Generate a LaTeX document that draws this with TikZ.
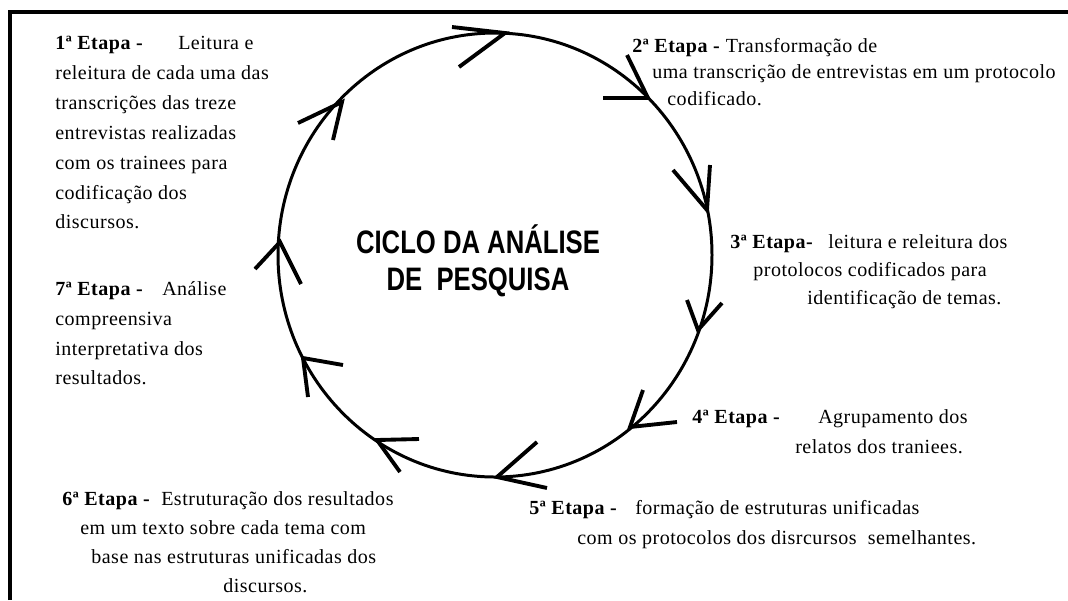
\documentclass[tikz,border=0pt]{standalone}
\usepackage{fontspec}
\setmainfont{Liberation Serif}[LetterSpace=2.5]
\newfontfamily\titlefont[FakeStretch=0.79]{Liberation Sans}
\begin{document}
\begin{tikzpicture}[x=0.02cm, y=-0.02cm,
    etapa/.style={anchor=north west, inner sep=0pt, align=left, font=\fontsize{11.4}{17}\selectfont},
    ponta/.style={line width=2.2pt, line join=miter}]

        \useasboundingbox (0,0) rectangle (1068,600);
        \draw [line width=2pt] (10,600) -- (10,12) -- (1068,12);

        % ciclo
        \coordinate (centro) at (495,255);
        \draw [line width=1.7pt] (centro) ellipse [x radius=217, y radius=222];
        \draw [ponta] (452,27) -- (505,33) -- (459,67);
        \draw [ponta] (627,55) -- (648,98) -- (603,98);
        \draw [ponta] (710,165) -- (707,210) -- (673,170);
        \draw [ponta] (687,300) -- (698,330) -- (722,303);
        \draw [ponta] (643,390) -- (630,427) -- (677,422);
        \draw [ponta] (537,442) -- (497,477) -- (547,488);
        \draw [ponta] (419,439) -- (377,440) -- (400,472);
        \draw [ponta] (343,365) -- (303,358) -- (308,397);
        \draw [ponta] (255,269) -- (280,242) -- (301,284);
        \draw [ponta] (298,123) -- (342,102) -- (333,140);

        \node [align=center, inner sep=0pt, font=\titlefont\bfseries\fontsize{18.5}{21}\selectfont] (titulo) at (478,261) {CICLO DA ANÁLISE\\DE~~PESQUISA};

        % etapas
        \node [etapa] (e1) at (55,36) {\textbf{1ª Etapa -}\hspace{0.7cm}Leitura e\\releitura de cada uma das\\transcrições das treze\\entrevistas realizadas\\com os trainees para\\codificação dos\\discursos.};
        \node [etapa, font=\fontsize{11.4}{15}\selectfont] (e2) at (632,38) {\textbf{2ª Etapa -} Transformação de\\\hspace*{0.4cm}uma transcrição de entrevistas em um protocolo\\\hspace*{0.7cm}codificado.};
        \node [etapa, font=\fontsize{11.4}{16}\selectfont] (e3) at (730,234) {\textbf{3ª Etapa-}\hspace{0.3cm}leitura e releitura dos\\\hspace*{0.46cm}protolocos codificados para\\\hspace*{1.54cm}identificação de temas.};
        \node [etapa] (e4) at (692,409) {\textbf{4ª Etapa -}\hspace{0.76cm}Agrupamento dos\\\hspace*{2.06cm}relatos dos traniees.};
        \node [etapa] (e5) at (529,500) {\textbf{5ª Etapa -}\hspace{0.36cm}formação de estruturas unificadas\\\hspace*{0.96cm}com os protocolos dos disrcursos~~semelhantes.};
        \node [etapa, font=\fontsize{11.4}{16.6}\selectfont] (e6) at (62,491) {\textbf{6ª Etapa -}~~Estruturação dos resultados\\\hspace*{0.36cm}em um texto sobre cada tema com\\\hspace*{0.58cm}base nas estruturas unificadas dos\\\hspace*{3.22cm}discursos.};
        \node [etapa] (e7) at (55,281) {\textbf{7ª Etapa -}\hspace{0.38cm}Análise\\compreensiva\\interpretativa dos\\resultados.};

\end{tikzpicture}
\end{document}
